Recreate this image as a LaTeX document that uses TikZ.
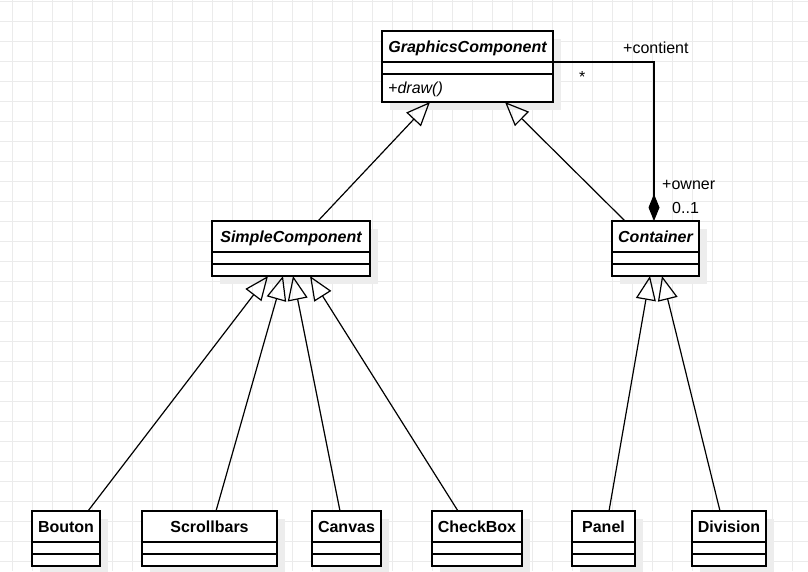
\documentclass[tikz,border=0pt]{standalone}
\usepackage{fontspec}
\setmainfont{Liberation Sans}
\usetikzlibrary{calc}
\usetikzlibrary{positioning}
\usetikzlibrary{arrows.meta}
\usetikzlibrary{shadows}

\begin{document}
\begin{tikzpicture}[x=1pt, y=-1pt,
        cls/.style={rectangle, draw=black, fill=white, line width=1.2pt, anchor=north west,
            inner sep=0pt, outer sep=0pt,
            drop shadow={shadow xshift=8pt, shadow yshift=-8pt, fill=black!7, opacity=1}},
        clsname/.style={font=\fontsize{16}{19}\selectfont\bfseries, anchor=base, inner sep=0pt},
        lbl/.style={font=\fontsize{16}{19}\selectfont, anchor=base west, inner sep=0pt},
        extends/.style={line width=1.2pt, -{Triangle[open, length=24pt, width=20pt]}},
        owns/.style={line width=1.2pt, -{Diamond[length=27pt, width=11pt]}},
        gridline/.style={draw=black!8, line width=1pt}]
    \useasboundingbox (0,0) rectangle (808,571);
    % background grid
    \foreach \gx in {12,32,...,792}
        \draw[gridline] (\gx,0) -- (\gx,571);
    \foreach \gy in {1,21,...,561}
        \draw[gridline] (0,\gy) -- (808,\gy);

    % abstract classes
    \node[cls, minimum width=171pt, minimum height=71pt] (gc) at (382,31) {};
    \node[clsname] at ($(gc.north)+(0,21)$) {\itshape GraphicsComponent};
    \node[lbl] (draw) at ($(gc.north west)+(6,62)$) {\itshape +draw()};
    \node[cls, minimum width=158pt, minimum height=55pt] (sc) at (212,221) {};
    \node[clsname] at ($(sc.north)+(0,21)$) {\itshape SimpleComponent};
    \node[cls, minimum width=87pt, minimum height=55pt] (ct) at (612,221) {};
    \node[clsname] at ($(ct.north)+(0,21)$) {\itshape Container};

    % concrete classes
    \foreach \cname/\cx/\cw in {Bouton/32/68, Scrollbars/142/135, Canvas/312/69,
                                CheckBox/432/90, Panel/572/63, Division/692/74}
    {
        \node[cls, minimum width=\cw pt, minimum height=55pt] (\cname) at (\cx,511) {};
        \node[clsname] at ($(\cname.north)+(0,21)$) {\cname};
    }

    % compartments
    \foreach \b in {gc,sc,ct,Bouton,Scrollbars,Canvas,CheckBox,Panel,Division}
    {
        \draw[line width=1.2pt] ($(\b.north west)+(0,31)$) -- ($(\b.north east)+(0,31)$);
        \draw[line width=1.2pt] ($(\b.north west)+(0,43)$) -- ($(\b.north east)+(0,43)$);
    }

    % generalisations
    \draw[extends] ($(sc.north west)+(106,0)$) -- ($(gc.south west)+(48,0)$);
    \draw[extends] ($(ct.north west)+(13,0)$) -- ($(gc.south west)+(123,0)$);
    \foreach \cname/\from/\to/\parent in {Bouton/56/56/sc, Scrollbars/74/71/sc, Canvas/28/81/sc,
                                          CheckBox/26/98/sc, Panel/37/38/ct, Division/28/50/ct}
        \draw[extends] ($(\cname.north west)+(\from,0)$) -- ($(\parent.south west)+(\to,0)$);

    % composition
    \draw[owns] ($(gc.north east)+(0,31)$) -| ($(ct.north west)+(42,0)$);
    \node[lbl] (contient) at (623,53) {+contient};
    \node[lbl] (many) at (579,82) {*};
    \node[lbl] (owner) at (662,189) {+owner};
    \node[lbl] (mult) at (672,213) {0..1};
\end{tikzpicture}
\end{document}
